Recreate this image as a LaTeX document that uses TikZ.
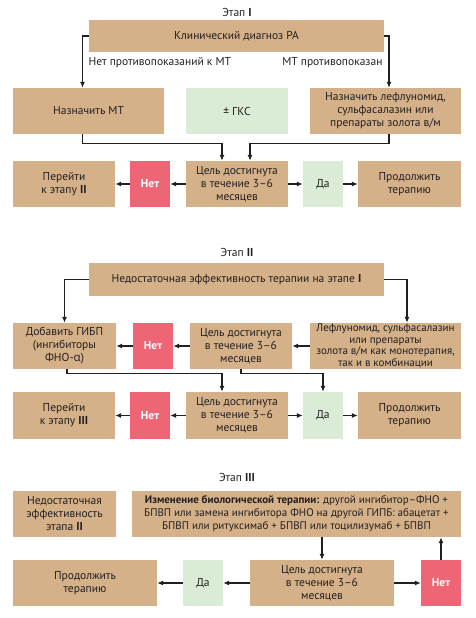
\documentclass[tikz,border=0pt]{standalone}
\usepackage{fontspec}
\setmainfont{PT Sans}
\newfontfamily\greekfont{Open Sans}
\usetikzlibrary{arrows.meta}

\definecolor{tan}{RGB}{213,177,137}
\definecolor{nored}{RGB}{238,102,117}
\definecolor{yesgreen}{RGB}{218,236,214}
\definecolor{ink}{RGB}{35,31,32}

\tikzset{
	box/.style={inner sep=1pt, align=center, text=ink, font=\fontsize{11.5}{13}\selectfont},
	tanbox/.style={box, fill=tan},
	nobox/.style={box, fill=nored, text=white, font=\fontsize{11.5}{13}\selectfont\bfseries},
	yesbox/.style={box, fill=yesgreen},
	title/.style={text=ink, font=\fontsize{11.5}{13}\selectfont},
	arr/.style={-{Latex[length=6pt,width=5pt]}, line width=1.1pt, draw=ink},
}

\begin{document}
\begin{tikzpicture}[x=1pt,y=-1pt]
	\useasboundingbox (0,0) rectangle (475,618);

	% stage I
	\node[title] (title1) at (237,12) {Этап \textbf{I}};
	\node[tanbox, minimum width=295, minimum height=32] (diag) at (236.5,36) {Клинический диагноз РА};
	\node[tanbox, minimum width=151, minimum height=46] (mt) at (88.5,111) {Назначить МТ};
	\node[yesbox, minimum width=102, minimum height=46] (gks) at (237,111) {± ГКС};
	\node[tanbox, minimum width=151, minimum height=46] (lef) at (385.5,111) {Назначить лефлуномид,\\сульфасалазин или\\препараты золота в/м};
	\node[tanbox, minimum width=102, minimum height=46] (go2) at (64,184) {Перейти\\к этапу \textbf{II}};
	\node[nobox, minimum width=40, minimum height=46] (no1) at (150,184) {Нет};
	\node[tanbox, minimum width=102, minimum height=46] (goal1) at (237,184) {Цель достигнута\\в течение 3–6\\месяцев};
	\node[yesbox, minimum width=40, minimum height=46] (yes1) at (323,184) {Да};
	\node[tanbox, minimum width=103, minimum height=46] (cont1) at (409.5,184) {Продолжить\\терапию};
	\node[title, anchor=west] (lblno) at (85,63) {Нет противопоказаний к МТ};
	\node[title, anchor=east] (lblyes) at (386,63) {МТ противопоказан};

	\draw[arr] (diag.west) -| ([xshift=-6pt]mt.north);
	\draw[arr] (diag.east) -| ([xshift=3.5pt]lef.north);
	\draw[arr] ([xshift=-6pt]mt.south) -- ++(0,9) -| ([xshift=-15pt]goal1.north);
	\draw[arr] ([xshift=3.5pt]lef.south) -- ++(0,9) -| ([xshift=13pt]goal1.north);
	\draw[arr] (goal1.west) -- (no1.east);
	\draw[arr] (no1.west) -- (go2.east);
	\draw[arr] (goal1.east) -- (yes1.west);
	\draw[arr] (yes1.east) -- (cont1.west);

	% stage II
	\node[title] (title2) at (237,252) {Этап \textbf{II}};
	\node[tanbox, minimum width=295, minimum height=33] (insuf) at (236.5,279.5) {Недостаточная эффективность терапии на этапе \textbf{I}};
	\node[tanbox, minimum width=103, minimum height=46] (gibp) at (64.5,346) {Добавить ГИБП\\(ингибиторы\\ФНО-{\greekfont α})};
	\node[nobox, minimum width=40, minimum height=46] (no2) at (153,346) {Нет};
	\node[tanbox, minimum width=102, minimum height=46] (goal2) at (241,346) {Цель достигнута\\в течение 3–6\\месяцев};
	\node[tanbox, minimum width=151, minimum height=46, font=\fontsize{11}{11.5}\selectfont] (lef2) at (385.5,346) {Лефлуномид, сульфасалазин\\или препараты\\золота в/м как монотерапия,\\так и в комбинации};
	\node[tanbox, minimum width=102, minimum height=47] (go3) at (64,415.5) {Перейти\\к этапу \textbf{III}};
	\node[nobox, minimum width=40, minimum height=47] (no3) at (150,415.5) {Нет};
	\node[tanbox, minimum width=102, minimum height=47] (goal3) at (237,415.5) {Цель достигнута\\в течение 3–6\\месяцев};
	\node[yesbox, minimum width=40, minimum height=47] (yes3) at (323,415.5) {Да};
	\node[tanbox, minimum width=103, minimum height=47] (cont3) at (409.5,415.5) {Продолжить\\терапию};

	\draw[arr] (insuf.west) -| (gibp.north);
	\draw[arr] (insuf.east) -| ([xshift=21.5pt]lef2.north);
	\draw[arr] (lef2.west) -- (goal2.east);
	\draw[arr] (goal2.west) -- (no2.east);
	\draw[arr] (no2.west) -- (gibp.east);
	\draw[arr] ([xshift=2.5pt]gibp.south) -- ++(0,4) -| ([xshift=-15pt]goal3.north);
	\draw[arr] (goal2.south) -- ++(0,4) -| (yes3.north);
	\draw[arr] (goal3.west) -- (no3.east);
	\draw[arr] (no3.west) -- (go3.east);
	\draw[arr] (goal3.east) -- (yes3.west);
	\draw[arr] (yes3.east) -- (cont3.west);

	% stage III
	\node[title] (title3) at (237,477) {Этап \textbf{III}};
	\node[tanbox, minimum width=103, minimum height=46] (insuf3) at (64.5,514) {Недостаточная\\эффективность\\этапа \textbf{II}};
	\node[tanbox, minimum width=329, minimum height=46, font=\fontsize{11}{13}\selectfont] (change) at (296.5,514) {\textbf{Изменение биологической терапии:} другой ингибитор–ФНО +\\БПВП или замена ингибитора ФНО на другой ГИПБ: абацетат +\\БПВП или ритуксимаб + БПВП или тоцилизумаб + БПВП};
	\node[tanbox, minimum width=144, minimum height=46] (cont5) at (85,583) {Продолжить\\терапию};
	\node[yesbox, minimum width=40, minimum height=46] (yes5) at (203,583) {Да};
	\node[tanbox, minimum width=144, minimum height=46] (goal5) at (322,583) {Цель достигнута\\в течение 3–6\\месяцев};
	\node[nobox, minimum width=40, minimum height=46] (no5) at (441,583) {Нет};

	\draw[arr] (change.south -| goal5.north) -- (goal5.north);
	\draw[arr] (goal5.west) -- (yes5.east);
	\draw[arr] (yes5.west) -- (cont5.east);
	\draw[arr] (goal5.east) -- (no5.west);
	\draw[arr] (no5.north) -- (change.south -| no5.north);
\end{tikzpicture}
\end{document}
